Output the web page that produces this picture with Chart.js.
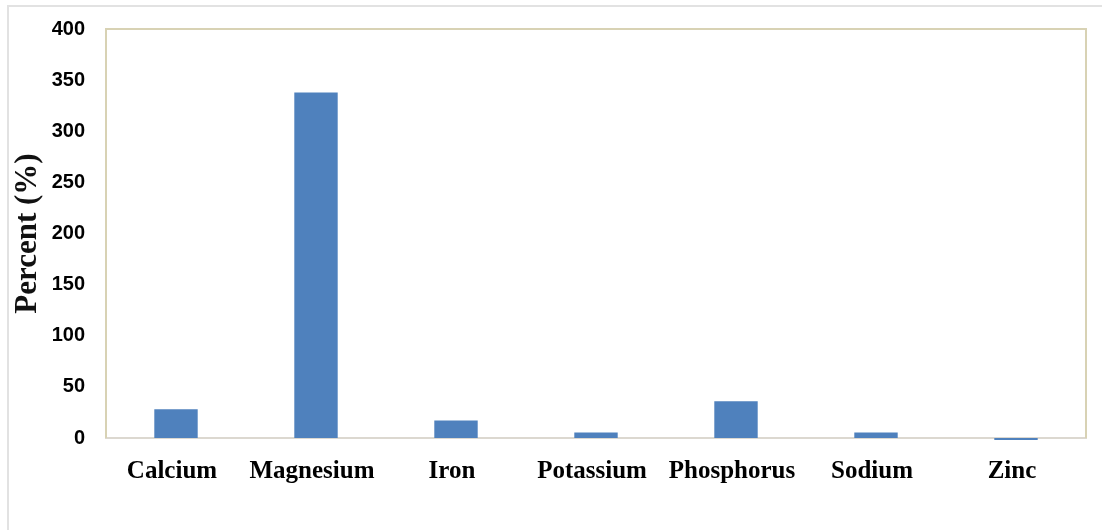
<!DOCTYPE html>
<html>
<head>
<meta charset="utf-8">
<script src="https://cdn.jsdelivr.net/npm/chart.js@4/dist/chart.umd.min.js"></script>
<style>
  html, body { margin: 0; padding: 0; background: #ffffff; overflow: hidden; }
  #wrap { position: relative; width: 1102px; height: 530px; }
  #frame { position: absolute; left: 7px; top: 5px; width: 2000px; height: 2000px;
           border: 2px solid #e2e2e2; pointer-events: none; }
  canvas { position: absolute; left: 0; top: 0; }
</style>
</head>
<body>
<div id="wrap">
  <canvas id="c" width="1102" height="530"></canvas>
  <div id="frame"></div>
</div>
<script>
const categories = ["Calcium", "Magnesium", "Iron", "Potassium", "Phosphorus", "Sodium", "Zinc"];
const percentValues = [28, 338, 17, 5.5, 36, 5.5, -2];
const yTickValues = [0, 50, 100, 150, 200, 250, 300, 350, 400];
const yAxisTitle = "Percent (%)";

const plotBorder = {
  id: 'plotBorder',
  afterDatasetsDraw(chart) {
    const a = chart.chartArea;
    const ctx = chart.ctx;
    ctx.save();
    ctx.strokeStyle = '#d8d2b4';
    ctx.lineWidth = 2;
    ctx.beginPath();
    ctx.moveTo(a.left, a.bottom);
    ctx.lineTo(a.left, a.top);
    ctx.lineTo(a.right, a.top);
    ctx.lineTo(a.right, a.bottom);
    ctx.stroke();
    ctx.restore();
  }
};

new Chart(document.getElementById('c'), {
  type: 'bar',
  data: {
    labels: categories,
    datasets: [{
      data: percentValues,
      backgroundColor: '#4f81bd',
      borderWidth: 0,
      barPercentage: 0.31,
      categoryPercentage: 1.0,
      clip: false
    }]
  },
  options: {
    responsive: false,
    animation: false,
    devicePixelRatio: 1,
    layout: { padding: { top: 29, right: 16, left: 0, bottom: 0 } },
    plugins: { legend: { display: false }, tooltip: { enabled: false } },
    scales: {
      x: {
        grid: { display: false, drawTicks: false },
        border: { display: true, color: '#dcd8d0', width: 2 },
        ticks: {
          color: '#000000',
          padding: 19,
          labelOffset: -4,
          maxRotation: 0,
          autoSkip: false,
          font: { family: '"Liberation Serif", "Times New Roman", serif', size: 25, weight: 'bold' }
        },
        afterFit(scale) {
          scale.height = 92;
          scale.paddingLeft = 0; scale.paddingRight = 0;
        }
      },
      y: {
        min: 0,
        max: 400,
        afterBuildTicks(scale) { scale.ticks = yTickValues.map(v => ({ value: v })); },
        grid: { display: false, drawTicks: false },
        border: { display: false },
        ticks: {
          color: '#000000',
          padding: 21,
          font: { family: '"Liberation Sans", Arial, sans-serif', size: 20, weight: 'bold' }
        },
        title: {
          display: true,
          text: yAxisTitle,
          color: '#111111',
          padding: { top: 9, bottom: 0 },
          font: { family: '"Liberation Serif", "Times New Roman", serif', size: 31, weight: 'bold' }
        },
        afterFit(scale) {
          scale.width = 106;
          scale.paddingTop = 0; scale.paddingBottom = 0;
        }
      }
    }
  },
  plugins: [plotBorder]
});
</script>
</body>
</html>
